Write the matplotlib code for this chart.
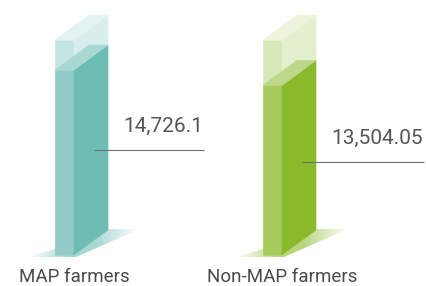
import numpy as np
import matplotlib.pyplot as plt
from matplotlib.patches import Polygon
from matplotlib.colors import to_rgb

categories = ['MAP farmers', 'Non-MAP farmers']
values = [14726.1, 13504.05]
value_labels = ['14,726.1', '13,504.05']
scale_max = 17100          # height of the pale "container" behind each bar
label_heights = [8350, 7400]  # where the leader line sits on each bar

# colours: bar faces and the pale container faces
front_colors = ['#92ccc6', '#a6ca5c']
side_colors = ['#6dbdb5', '#8aba2b']
top_colors = ['#a9d8d3', '#bdd88a']
ghost_front = ['#c4e5e2', '#d6e8b8']
ghost_side = ['#d7eeec', '#e3efcd']
ghost_top = ['#e2f3f1', '#ecf4dc']

# layout in pixels of the 427x286 picture
W, H = 427, 286
x_first, x_step = 55, 208   # front-left edge of first bar, bar spacing
base_px = 255               # pixel row of the floor
px_per_unit = 0.01256


def dx(p):
    return p / x_step


def dy(p):
    return p / px_per_unit


fig = plt.figure(figsize=(W / 100, H / 100), dpi=100)
ax = fig.add_axes([0, 0, 1, 1])
ax.set_xlim(-x_first / x_step, (W - x_first) / x_step)
ax.set_ylim(-(H - base_px) / px_per_unit, base_px / px_per_unit)
ax.axis('off')

bw, ddx, ddy = dx(19), dx(34), dy(25)


def box(x, h, front, side, top, z):
    kw = dict(lw=0.4, zorder=z)
    ax.add_patch(Polygon([(x, 0), (x + bw, 0), (x + bw, h), (x, h)],
                         fc=front, ec=front, **kw))
    ax.add_patch(Polygon([(x + bw, 0), (x + bw + ddx, ddy), (x + bw + ddx, h + ddy), (x + bw, h)],
                         fc=side, ec=side, **kw))
    ax.add_patch(Polygon([(x, h), (x + bw, h), (x + bw + ddx, h + ddy), (x + ddx, h + ddy)],
                         fc=top, ec=top, **kw))


def shadow(x, color):
    # soft floor shadow, fading left and right from the base
    pts = [(x + dx(-27), -dy(2)), (x + dx(21), -dy(2)), (x + dx(85), dy(26)),
           (x + dx(53), dy(26)), (x, dy(6))]
    poly = Polygon(pts, fc='none', ec='none')
    ax.add_patch(poly)
    u = np.linspace(-27, 85, 200)
    a = np.interp(u, [-27, 15, 40, 85], [0, 0.6, 0.6, 0])
    img = np.zeros((2, len(u), 4))
    img[..., :3] = to_rgb(color)
    img[..., 3] = a
    im = ax.imshow(img, extent=(x + dx(-27), x + dx(85), -dy(2), dy(26)),
                   aspect='auto', interpolation='bilinear', zorder=1)
    im.set_clip_path(poly)


for i, v in enumerate(values):
    x = i
    shadow(x, side_colors[i])
    box(x, scale_max, ghost_front[i], ghost_side[i], ghost_top[i], 2)
    box(x, v, front_colors[i], side_colors[i], top_colors[i], 3)

fig.canvas.draw()
renderer = fig.canvas.get_renderer()
inv = ax.transData.inverted()

for i, v in enumerate(values):
    x = i
    ly = label_heights[i]
    t = ax.text(x + dx(68), ly + dy(18), value_labels[i], fontsize=15,
                family='Roboto', color='#555555', ha='left', va='baseline', zorder=5)
    bb = t.get_window_extent(renderer)
    x_end = inv.transform((bb.x1, bb.y0))[0]
    ax.plot([x + dx(39), x_end + dx(1)], [ly, ly], color='#6e6e6e', lw=0.8,
            solid_capstyle='butt', zorder=5)
    ax.text(x + dx(19), -dy(27.5), categories[i], fontsize=13.5, family='Roboto',
            color='#4a4a4a', ha='center', va='baseline')

fig.savefig('out.png', dpi=100)
